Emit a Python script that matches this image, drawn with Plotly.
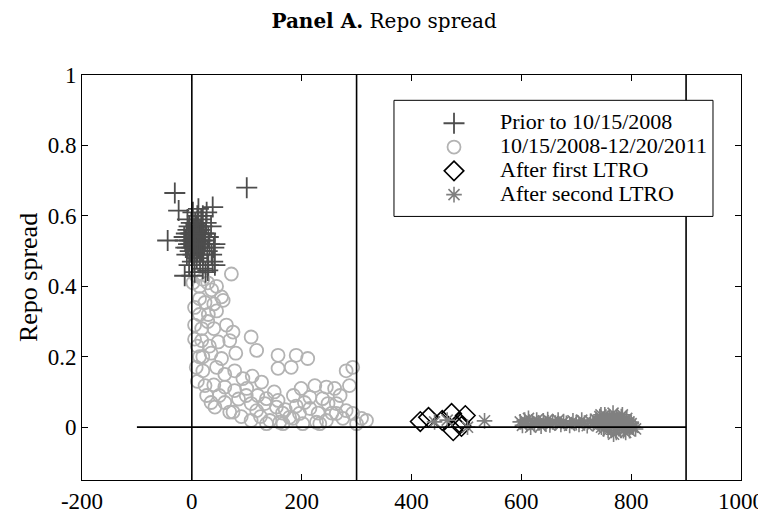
import plotly.graph_objects as go

# ---------------- data ----------------
prior_x = [-31, -24, -44, 100, 38, 42, 42, 29,
           -12, -10, -8, -6, -5, -3, -2, 0, 1, 2, 3, 4, 5, 6, 7, 8, 9, 10, 11, 12, 13, 14,
           15, 16, 17, 18, 20, 22, 24, 26, 28, -9, -7, -4, -1, 1, 3, 5, 7, 9, 11, 13,
           15, 17, 19, 21, 23, 25, -11, -6, 0, 2, 4, 6, 8, 10, 12, 14, 16, 18, -3, -14,
           30, 32, 35, 20, 10, 2, -8, 36, 40, 38, 30, 25, 20, 5, -5, 0, -13, 15, 27, 12]
prior_y = [0.665, 0.615, 0.53, 0.68, 0.625, 0.52, 0.46, 0.445,
           0.53, 0.55, 0.51, 0.54, 0.57, 0.50, 0.52, 0.55, 0.53, 0.49, 0.56, 0.51, 0.54, 0.58, 0.52, 0.50, 0.55, 0.53, 0.57, 0.51, 0.54, 0.49,
           0.56, 0.52, 0.59, 0.54, 0.51, 0.55, 0.53, 0.58, 0.50, 0.49, 0.56, 0.53, 0.58, 0.47, 0.52, 0.50, 0.55, 0.48, 0.52, 0.56,
           0.50, 0.53, 0.57, 0.49, 0.52, 0.55, 0.51, 0.52, 0.51, 0.54, 0.56, 0.53, 0.57, 0.50, 0.55, 0.52, 0.55, 0.50, 0.55, 0.54,
           0.54, 0.52, 0.57, 0.60, 0.60, 0.61, 0.59, 0.49, 0.51, 0.47, 0.46, 0.44, 0.45, 0.44, 0.46, 0.43, 0.43, 0.47, 0.61, 0.62]

crisis_x = [2, 8, 14, 20, 29, 36, 45, 72, 54, 14, 24, 57, 40, 5, 14, 45, 30, 63, 29, 5,
            18, 40, 75, 108, 118, 5, 18, 48, 69, 32, 14, 54, 35, 80, 157, 190, 211, 157, 181, 293,
            281, 8, 20, 45, 78, 60, 93, 110, 127, 24, 10, 40, 60, 78, 99, 85, 108, 42, 27, 60,
            69, 118, 133, 154, 142, 108, 90, 184, 199, 224, 245, 260, 287, 215, 238, 263, 215, 196, 178, 245,
            275, 293, 309, 318, 227, 202, 160, 281, 263, 75, 136, 157, 233, 248, 166, 136, 125, 170, 185, 255,
            300, 230, 205, 270, 100, 120, 150, 165, 190, 50, 35, 20, 10]
crisis_y = [0.41, 0.43, 0.40, 0.42, 0.41, 0.39, 0.40, 0.435, 0.37, 0.365, 0.354, 0.36, 0.35, 0.34, 0.32, 0.33, 0.32, 0.29, 0.30, 0.29,
            0.28, 0.28, 0.27, 0.256, 0.218, 0.25, 0.246, 0.242, 0.246, 0.23, 0.20, 0.195, 0.21, 0.21, 0.204, 0.204, 0.195, 0.167, 0.17, 0.17,
            0.16, 0.17, 0.16, 0.17, 0.16, 0.15, 0.138, 0.145, 0.128, 0.118, 0.13, 0.12, 0.114, 0.104, 0.09, 0.08, 0.067, 0.057, 0.09, 0.07,
            0.043, 0.047, 0.067, 0.057, 0.019, 0.019, 0.03, 0.025, 0.11, 0.118, 0.114, 0.11, 0.118, 0.085, 0.081, 0.067, 0.053, 0.039, 0.028, 0.019,
            0.025, 0.039, 0.025, 0.019, 0.014, 0.01, 0.014, 0.047, 0.039, 0.043, 0.081, 0.076, 0.01, 0.067, 0.01, 0.01, 0.03, 0.05, 0.09, 0.04,
            0.01, 0.04, 0.07, 0.09, 0.11, 0.09, 0.10, 0.04, 0.06, 0.09, 0.07, 0.20, 0.23]

ltro1_x = [416, 431, 456, 473, 498, 487, 476, 491]
ltro1_y = [0.016, 0.028, 0.019, 0.039, 0.033, 0.013, -0.010, 0.002]

ltro2_x = [442, 502, 533, 465,
           598, 602, 606, 610, 613, 617, 620, 624, 628, 632, 636, 640, 644, 648, 652, 657,
           662, 667, 672, 677, 682, 688, 694, 700, 705, 710, 715, 720, 726, 731, 736,
           740, 743, 746, 749, 752, 755, 758, 761, 764, 767, 770, 773, 776, 779, 782,
           785, 788, 791, 794, 797, 800, 804, 808, 745, 750, 756, 762, 768, 774, 780,
           786, 792, 798, 760, 766, 772, 778, 784, 790, 796, 802, 754, 748, 742, 738]
ltro2_y = [0.015, 0.000, 0.018, 0.020,
           0.015, 0.005, 0.020, 0.010, 0.025, 0.000, 0.015, 0.008, 0.020, 0.012, 0.003, 0.018, 0.010, 0.022, 0.006, 0.015,
           0.012, 0.020, 0.008, 0.016, 0.011, 0.005, 0.018, 0.013, 0.008, 0.020, 0.012, 0.004, 0.017, 0.010, 0.022,
           0.015, 0.030, 0.000, 0.020, 0.035, 0.010, -0.010, 0.025, 0.005, 0.040, 0.015, -0.015, 0.020, 0.000, 0.030,
           0.010, -0.005, 0.020, 0.005, -0.010, 0.010, 0.000, -0.005, 0.035, -0.005, 0.025, 0.010, -0.020, 0.030, 0.015,
           -0.010, 0.025, 0.005, 0.000, 0.020, -0.010, 0.010, 0.035, -0.015, 0.015, 0.000, 0.012, 0.022, 0.008, 0.018]

series_names = ["Prior to 10/15/2008", "10/15/2008-12/20/2011", "After first LTRO", "After second LTRO"]

x_tick_vals = [-200, 0, 200, 400, 600, 800, 1000]
x_tick_text = ["-200", "0", "200", "400", "600", "800", "1000"]
y_tick_vals = [0, 0.2, 0.4, 0.6, 0.8, 1]
y_tick_text = ["0", "0.2", "0.4", "0.6", "0.8", "1"]

vline_x = [0, 300, 900]
hline_y = 0
hline_x_range = [-100, 900]

FONT = "Liberation Serif"
LEG_TXT = '<span style="font-size:22px">{}</span>'

fig = go.Figure()
fig.add_trace(go.Scatter(x=crisis_x, y=crisis_y, mode="markers", name=LEG_TXT.format(series_names[1]), legendrank=2,
                         marker=dict(symbol="circle-open", size=13, color="#b3b3b3",
                                     line=dict(width=1.8, color="#b3b3b3"))))
fig.add_trace(go.Scatter(x=prior_x, y=prior_y, mode="markers", name=LEG_TXT.format(series_names[0]), legendrank=1,
                         marker=dict(symbol="cross-thin-open", size=15, color="#4d4d4d",
                                     line=dict(width=1.8, color="#4d4d4d"))))
fig.add_trace(go.Scatter(x=ltro1_x, y=ltro1_y, mode="markers", name=LEG_TXT.format(series_names[2]), legendrank=3,
                         marker=dict(symbol="diamond-open", size=15, color="black",
                                     line=dict(width=1.6, color="black"))))
fig.add_trace(go.Scatter(x=ltro2_x, y=ltro2_y, mode="markers", name=LEG_TXT.format(series_names[3]), legendrank=4,
                         marker=dict(symbol="asterisk-open", size=13, color="#808080",
                                     line=dict(width=1.6, color="#808080"))))

shapes = []
for vx in vline_x:
    shapes.append(dict(type="line", xref="x", yref="paper", x0=vx, x1=vx, y0=0, y1=1,
                       line=dict(color="black", width=1.6), layer="above"))
shapes.append(dict(type="line", xref="x", yref="y", x0=hline_x_range[0], x1=hline_x_range[1],
                   y0=hline_y, y1=hline_y, line=dict(color="black", width=1.6), layer="above"))
# legend box
shapes.append(dict(type="rect", xref="paper", yref="paper", x0=0.4734, x1=0.9575, y0=0.6508, y1=0.9375,
                   line=dict(color="black", width=1), fillcolor="white", layer="above"))

fig.update_layout(
    width=766, height=519,
    margin=dict(l=74, r=33, t=67, b=47),
    paper_bgcolor="white", plot_bgcolor="white",
    font=dict(family=FONT, size=23, color="black"),
    title=dict(text="<b>Panel A.</b> Repo spread", x=0.491, xanchor="center",
               yref="container", y=0.974, yanchor="middle",
               font=dict(family="DejaVu Serif", size=20, color="black")),
    showlegend=True,
    legend=dict(x=0.4947, y=0.9226, xanchor="left", yanchor="top", bgcolor="rgba(0,0,0,0)",
                borderwidth=0, itemwidth=82, font=dict(family=FONT, size=16), tracegroupgap=0),
    shapes=shapes,
    xaxis=dict(range=[-200, 1000], tickmode="array", tickvals=x_tick_vals, ticktext=x_tick_text,
               ticks="inside", ticklen=6, tickcolor="black", showline=True, linecolor="black",
               linewidth=1, mirror="allticks", showgrid=False, zeroline=False, automargin=False,
               tickfont=dict(family=FONT, size=23)),
    yaxis=dict(range=[-0.15, 1], tickmode="array", tickvals=y_tick_vals, ticktext=y_tick_text,
               ticks="inside", ticklen=6, tickcolor="black", showline=True, linecolor="black",
               linewidth=1, mirror="allticks", showgrid=False, zeroline=False, automargin=False,
               title=dict(text="Repo spread", font=dict(family=FONT, size=26), standoff=2),
               tickfont=dict(family=FONT, size=23)),
)

fig.write_html("out.html")
